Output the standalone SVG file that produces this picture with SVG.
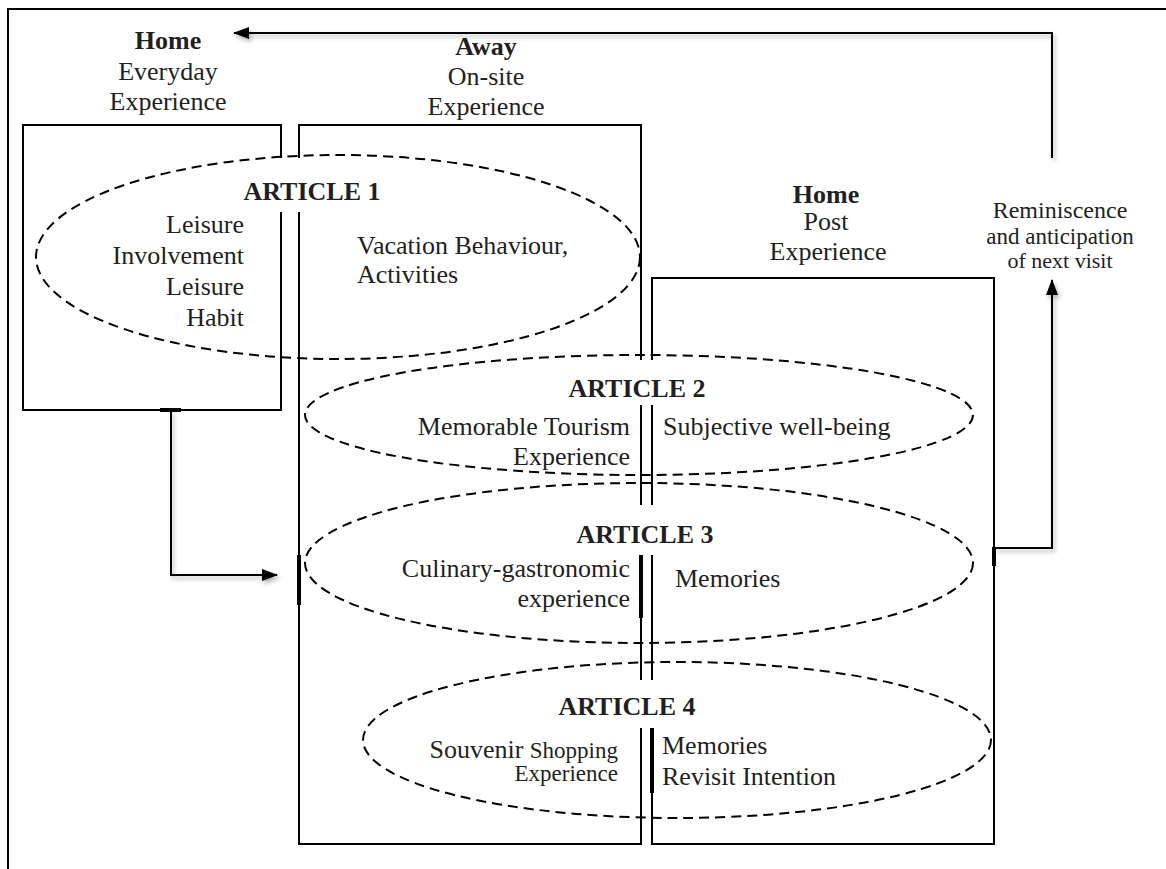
<svg xmlns="http://www.w3.org/2000/svg" width="1166" height="869" viewBox="0 0 1166 869">
<style>
  .t{font-family:"Liberation Serif","Times New Roman",serif;font-size:26px;fill:#231f20}
  .b{font-weight:bold}
  .m{text-anchor:middle}
  .e{text-anchor:end}
  .ln{stroke:#000;stroke-width:2;fill:none}
  .tk{stroke:#000;stroke-width:4;fill:none}
  .el{stroke:#000;stroke-width:2;fill:none;stroke-dasharray:10 6}
  .cn{stroke:#000;stroke-width:2;fill:none}
</style>
<defs>
  <marker id="ah" viewBox="0 0 16 12" refX="15" refY="6" markerWidth="16" markerHeight="12" markerUnits="userSpaceOnUse" orient="auto">
    <path d="M0,0 L16,6 L0,12 Z" fill="#000"/>
  </marker>
  <filter id="sh" x="-5%" y="-5%" width="110%" height="120%">
    <feDropShadow dx="2" dy="3" stdDeviation="2" flood-color="#000" flood-opacity="0.3"/>
  </filter>
</defs>
<rect width="1166" height="869" fill="#fff"/>
<g id="frame">
  <path class="ln" d="M8,869 V9 H1166"/>
</g>
<g id="home-everyday">
  <path class="ln" d="M281,212 V410 H23 V125 H281 V158"/>
  <path class="tk" d="M160,410 H181"/>
  <text class="t b m" x="168" y="49">Home</text>
  <text class="t m" x="168" y="80">Everyday</text>
  <text class="t m" x="168" y="110">Experience</text>
</g>
<g id="away-onsite">
  <path class="ln" d="M299,158 V125 H641 V360"/>
  <path class="ln" d="M299,212 V844 H641 V728"/>
  <path class="ln" d="M641,405 V505 M641,555 V680"/>
  <path class="tk" d="M641,555 V618 M299,555 V605"/>
  <text class="t b m" x="486" y="55">Away</text>
  <text class="t m" x="486" y="85">On-site</text>
  <text class="t m" x="486" y="115">Experience</text>
</g>
<g id="home-post">
  <path class="ln" d="M652,360 V278 H994 V844 H652 V728"/>
  <path class="ln" d="M652,405 V505 M652,555 V680"/>
  <path class="tk" d="M652,728 V793 M994,547 V566"/>
  <text class="t b m" x="826" y="203">Home</text>
  <text class="t m" x="826" y="230">Post</text>
  <text class="t m" x="828" y="260">Experience</text>
</g>
<g id="reminiscence">
  <text class="t m" x="1060" y="218" style="font-size:24px">Reminiscence</text>
  <text class="t m" x="1060" y="244" style="font-size:23px">and anticipation</text>
  <text class="t m" x="1060" y="268" style="font-size:22px">of next visit</text>
</g>
<g id="article1">
  <ellipse class="el" cx="338" cy="257" rx="302" ry="102"/>
  <text class="t b m" x="312" y="200">ARTICLE 1</text>
  <text class="t e" x="244" y="233">Leisure</text>
  <text class="t e" x="244" y="264">Involvement</text>
  <text class="t e" x="244" y="295">Leisure</text>
  <text class="t e" x="244" y="326">Habit</text>
  <text class="t" x="357" y="254">Vacation Behaviour,</text>
  <text class="t" x="357" y="283">Activities</text>
</g>
<g id="article2">
  <ellipse class="el" cx="639" cy="415" rx="334" ry="60"/>
  <text class="t b m" x="637" y="397">ARTICLE 2</text>
  <text class="t e" x="630" y="435">Memorable Tourism</text>
  <text class="t e" x="630" y="465">Experience</text>
  <text class="t" x="663" y="435">Subjective well-being</text>
</g>
<g id="article3">
  <ellipse class="el" cx="639" cy="563" rx="334" ry="80"/>
  <text class="t b m" x="645" y="543">ARTICLE 3</text>
  <text class="t e" x="630" y="577">Culinary-gastronomic</text>
  <text class="t e" x="630" y="607">experience</text>
  <text class="t" x="675" y="587">Memories</text>
</g>
<g id="article4">
  <ellipse class="el" cx="677" cy="740" rx="314" ry="78"/>
  <text class="t b m" x="627" y="715">ARTICLE 4</text>
  <text class="t e" x="618" y="758">Souvenir <tspan style="font-size:23px">Shopping</tspan></text>
  <text class="t e" x="618" y="781" style="font-size:23px">Experience</text>
  <text class="t" x="662" y="754">Memories</text>
  <text class="t" x="662" y="785">Revisit Intention</text>
</g>
<g id="connectors" filter="url(#sh)">
  <path class="cn" d="M1052,158 V33 H234" marker-end="url(#ah)"/>
  <path class="cn" d="M994,548 H1052 V280" marker-end="url(#ah)"/>
  <path class="cn" d="M171,411 V575 H277" marker-end="url(#ah)"/>
</g>
</svg>
